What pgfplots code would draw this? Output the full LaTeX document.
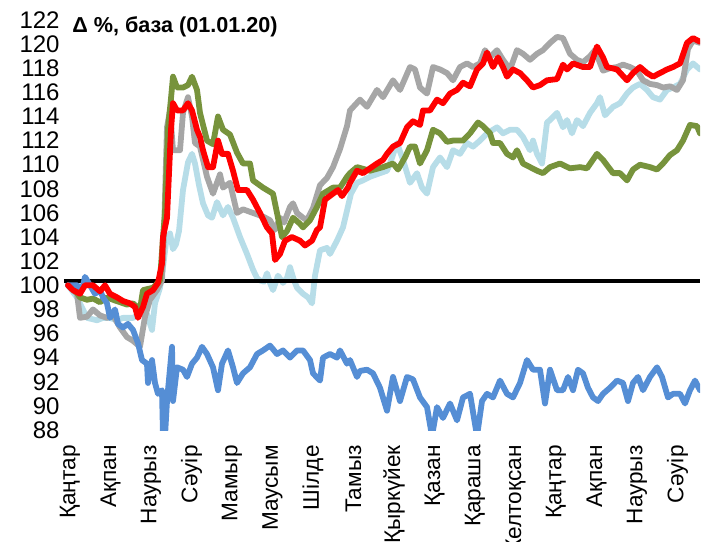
\documentclass[border=0pt]{standalone}
\usepackage{pgfplots}
\pgfplotsset{compat=1.18}
\usepackage{fontspec}
\setmainfont{Liberation Sans}
\definecolor{cgray}{HTML}{A6A6A6}
\definecolor{cgreen}{HTML}{77933C}
\definecolor{cred}{HTML}{FF0000}
\definecolor{clblue}{HTML}{B7DDE8}
\definecolor{cblue}{HTML}{558ED5}
\begin{document}
\begin{tikzpicture}
\begin{axis}[
  at={(0,0)}, anchor=south west,
  scale only axis, width=318pt, height=205pt,
  xmin=64, xmax=700, ymin=88, ymax=122,
  axis line style={draw=none},
  major tick length=0pt,
  ytick={88,90,...,122},
  xtick={70,110.5,151,191.5,232,272.5,313,353.5,394,434.5,475,515.5,556,596.5,637,677.5},
  xticklabels={Қаңтар,Ақпан,Наурыз,Сәуір,Мамыр,Маусым,Шілде,Тамыз,Қыркүйек,Қазан,Қараша,Желтоқсан,Қаңтар,Ақпан,Наурыз,Сәуір},
  /pgf/number format/assume math mode=true,
  yticklabel style={font=\fontsize{12}{12}\selectfont, inner sep=0pt, anchor=east, xshift=-2pt},
  xticklabel style={font=\fontsize{11.3}{11.3}\selectfont, rotate=90, anchor=east, inner sep=0pt},
  xticklabel shift=7.5pt,
  every axis plot/.append style={line width=2.9pt, line join=round, line cap=round},
]
\addplot[clblue] coordinates {
(68,100)(77,99.0)(87,97.3)(97,97.1)(103,97.3)(110,97.3)(117,97.1)(123,97.3)(133,97.3)(140,97.6)(147,97.6)(152,96.3)(155,98.5)(160,99.8)(163,101.5)(166,103.5)(170,104.3)(173,103.0)(176,103.4)(179,104.5)(183,107.9)(188,110.2)(192,110.9)(195,110.1)(199,108.3)(203,106.8)(208,105.8)(212,105.6)(217,106.9)(223,105.8)(228,106.5)(233,105.6)(240,104.0)(247,102.6)(253,101.3)(257,100.6)(260,100.4)(264,100.3)(267,101.0)(270,100.2)(273,99.6)(278,100.8)(283,100.2)(287,100.6)(290,101.5)(294,100.4)(297,99.8)(303,99.3)(308,99.0)(312,98.5)(315,100.8)(320,102.9)(327,103.1)(330,102.6)(337,103.7)(343,104.8)(347,106.2)(351,107.6)(357,108.5)(363,108.7)(370,109.0)(380,109.3)(387,109.5)(390,110.1)(397,111.8)(403,110.4)(410,108.5)(417,109.3)(422,108.1)(427,107.6)(433,109.8)(440,110.6)(447,109.8)(453,111.2)(460,110.9)(467,111.8)(473,111.5)(480,112.0)(487,112.6)(497,113.1)(503,112.6)(510,112.9)(517,112.9)(523,112.3)(530,111.2)(533,112.0)(537,110.9)(542,110.1)(547,113.5)(550,113.7)(557,114.3)(563,113.1)(567,113.7)(572,112.6)(577,113.7)(583,113.2)(590,114.3)(597,115.1)(600,115.6)(605,114.1)(613,114.8)(620,115.1)(627,115.9)(633,116.4)(640,116.7)(647,116.2)(653,115.6)(660,115.4)(667,116.2)(673,116.4)(680,116.7)(687,117.9)(693,118.4)(700,117.9)
};
\addplot[black, line width=2pt, line cap=butt] coordinates {(64,100.35)(700,100.35)};
\addplot[cgray] coordinates {
(68,100)(74,99.5)(77,99.3)(80,97.3)(87,97.4)(93,98.0)(100,97.5)(107,97.3)(113,97.5)(120,96.5)(127,95.7)(133,95.4)(140,94.9)(145,97.4)(150,98.8)(157,99.6)(162,100.4)(164,104.3)(167,113.1)(170,114.5)(173,111.2)(180,111.2)(183,114.3)(188,115.6)(192,114.0)(195,111.8)(200,111.5)(207,109.0)(213,107.6)(220,109.2)(223,108.1)(230,108.5)(237,106.0)(243,106.3)(253,106.0)(263,105.7)(270,105.4)(275,104.6)(280,105.6)(284,105.2)(290,106.5)(293,106.8)(297,106.0)(303,105.6)(307,105.4)(313,106.4)(320,108.3)(327,108.9)(333,109.8)(340,111.3)(347,113.2)(350,114.5)(360,115.4)(367,114.8)(377,116.2)(383,115.6)(393,117.0)(400,116.2)(410,118.1)(415,117.9)(420,116.4)(427,115.9)(433,118.1)(440,117.9)(447,117.6)(453,117.0)(460,118.1)(467,118.4)(473,118.1)(480,118.4)(485,119.5)(490,118.9)(497,119.5)(503,118.7)(510,117.9)(517,119.5)(523,119.2)(530,118.7)(537,119.2)(543,119.5)(550,120.1)(557,120.6)(563,120.5)(570,119.2)(577,118.7)(583,118.5)(590,119.0)(595,119.5)(603,117.8)(610,118.0)(617,118.1)(623,118.3)(630,118.1)(637,117.8)(643,117.0)(650,116.7)(657,116.6)(663,116.4)(670,116.5)(677,116.2)(683,117.0)(688,119.6)(693,120.3)(700,120.1)
};
\addplot[cgreen] coordinates {
(68,100)(75,99.6)(80,99.0)(87,98.8)(93,98.9)(100,98.6)(107,99.0)(113,98.8)(120,98.6)(127,98.4)(133,98.5)(140,98.0)(143,99.6)(153,99.8)(160,100.4)(163,104.0)(165,106.0)(168,113.0)(171,115.5)(173,117.3)(177,116.4)(183,116.4)(188,116.6)(192,117.3)(197,116.2)(200,114.3)(207,112.0)(213,111.7)(218,114.0)(223,112.9)(230,112.5)(237,111.0)(243,110.1)(250,110.1)(253,108.7)(263,108.1)(273,107.6)(277,106.0)(282,104.0)(287,104.5)(293,105.6)(300,105.1)(303,104.8)(310,105.4)(317,106.5)(323,107.6)(333,108.1)(340,108.1)(347,109.0)(350,109.3)(357,109.8)(370,109.5)(383,109.8)(393,110.1)(398,109.6)(405,110.6)(410,111.5)(415,111.5)(420,110.1)(427,111.2)(433,112.9)(440,112.6)(447,111.9)(453,112.0)(463,112.0)(470,112.6)(478,113.5)(483,113.2)(490,112.6)(493,111.8)(500,111.8)(507,110.9)(513,110.6)(517,111.2)(523,110.1)(530,109.8)(537,109.5)(543,109.3)(550,109.8)(560,110.1)(570,109.7)(580,109.8)(587,109.7)(597,110.9)(603,110.4)(613,109.3)(620,109.3)(627,108.7)(633,109.6)(640,110.0)(650,109.8)(657,109.6)(663,110.1)(670,110.8)(677,111.2)(683,112.0)(690,113.3)(697,113.2)(700,112.6)
};
\addplot[cblue] coordinates {
(68,100)(77,100)(82,99.6)(85,100.7)(90,100)(95,99.3)(100,99.6)(103,99.0)(107,98.5)(110,97.3)(115,98.0)(118,96.8)(123,96.5)(128,96.8)(133,96.3)(138,95.2)(142,93.8)(147,93.5)(148,91.9)(152,93.8)(155,91.9)(158,91.0)(162,91.3)(163,87.5)(165,87.5)(167,90.4)(168,91.3)(172,94.9)(173,90.4)(177,93.2)(183,93.0)(187,92.4)(192,93.5)(197,94.0)(202,94.9)(207,94.3)(213,93.2)(218,91.3)(222,93.5)(228,94.6)(233,93.2)(237,91.9)(243,92.7)(250,93.2)(257,94.3)(263,94.6)(270,95.0)(277,94.3)(283,94.6)(290,94.0)(297,94.6)(303,94.6)(310,93.8)(313,92.7)(320,92.1)(323,94.0)(330,94.3)(337,94.0)(340,94.6)(347,93.5)(350,93.8)(357,92.4)(360,92.9)(367,93.0)(373,92.7)(380,91.5)(387,89.6)(393,92.4)(400,90.4)(407,92.4)(413,92.2)(420,90.7)(427,89.9)(432,87.5)(437,89.9)(443,89.0)(450,90.2)(457,88.8)(463,90.7)(470,91.0)(477,87.5)(482,90.4)(487,91.0)(493,90.7)(500,92.1)(507,91.0)(513,90.7)(520,91.9)(527,93.8)(533,93.0)(540,93.0)(545,90.2)(550,93.0)(557,91.3)(563,91.3)(568,92.4)(573,91.3)(578,93.0)(583,92.7)(588,91.5)(593,90.7)(598,90.4)(603,91.0)(610,91.5)(617,92.1)(623,91.9)(628,90.4)(633,91.9)(638,92.4)(643,91.3)(650,92.4)(657,93.2)(662,92.4)(668,90.7)(673,91.0)(680,91.0)(685,90.2)(690,91.3)(695,92.1)(700,91.3)
};
\addplot[cred] coordinates {
(68,100)(73,99.6)(80,99.3)(85,100)(93,100)(100,99.5)(105,100)(110,99.3)(117,99.0)(123,98.7)(130,98.5)(135,98.2)(138,97.3)(143,98.2)(147,99.3)(153,99.6)(158,100.2)(162,101.8)(163,104.0)(167,105.6)(169,109.3)(171,112.9)(173,115.1)(177,114.5)(183,114.5)(188,115.1)(192,114.5)(197,112.9)(200,112.3)(203,111.2)(208,109.8)(213,109.8)(218,112.0)(222,110.9)(228,110.9)(233,109.5)(238,107.9)(247,107.9)(253,107.1)(260,106.0)(267,104.8)(272,104.3)(275,102.1)(280,102.6)(285,103.7)(292,104.0)(300,103.7)(305,103.3)(312,103.7)(317,104.6)(320,104.8)(325,107.1)(333,107.6)(338,107.9)(342,107.4)(348,108.1)(350,108.5)(357,109.5)(363,109.3)(370,109.7)(377,110.1)(383,110.4)(387,110.9)(393,111.5)(400,111.8)(407,113.1)(413,113.6)(420,113.3)(423,114.5)(430,114.5)(437,115.4)(443,115.1)(450,115.9)(457,116.2)(463,116.8)(470,116.5)(477,117.9)(483,118.4)(487,119.3)(493,118.1)(498,118.9)(503,118.1)(507,117.3)(513,117.9)(520,117.6)(527,117.0)(533,116.4)(540,116.6)(547,117.0)(557,117.1)(563,118.3)(567,117.9)(573,118.4)(583,118.1)(590,118.1)(597,119.8)(603,118.9)(607,118.1)(617,117.9)(627,117.0)(633,117.6)(640,118.1)(647,117.6)(653,117.3)(660,117.6)(667,117.9)(673,118.1)(680,118.4)(687,120.1)(693,120.5)(700,120.2)
};
\coordinate (ttl) at (axis cs:72,121.4);
\end{axis}
\node[anchor=west, inner sep=0pt, font=\fontsize{10.8}{10.8}\selectfont\bfseries] at (ttl) {Δ \%, база (01.01.20)};
\pgfresetboundingbox
\path[use as bounding box] (-32pt,-55.5pt) rectangle (318.5pt,215pt);
\end{tikzpicture}
\end{document}
